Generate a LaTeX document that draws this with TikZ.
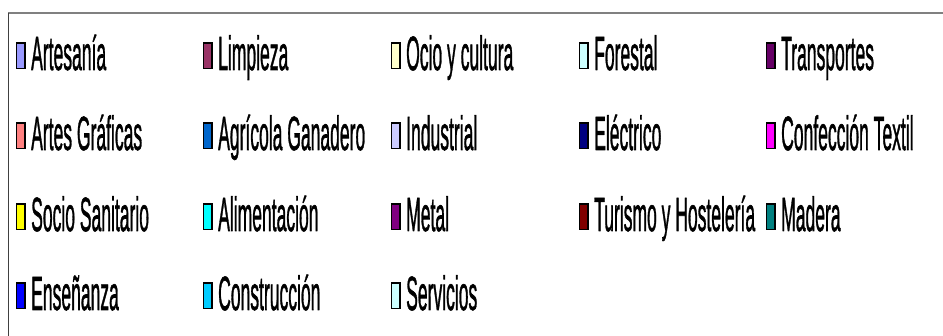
\documentclass[tikz,border=0pt]{standalone}
\usepackage{fontspec}
\setmainfont{Liberation Sans}
\newfontfamily\legfont[FakeBold=1.6]{Liberation Sans}
\usepackage{graphicx}
\definecolor{cArtesania}{HTML}{9999FF}
\definecolor{cLimpieza}{HTML}{993366}
\definecolor{cOcio}{HTML}{FFFFCC}
\definecolor{cForestal}{HTML}{CCFFFF}
\definecolor{cTransportes}{HTML}{660066}
\definecolor{cArtesGraficas}{HTML}{FF8080}
\definecolor{cAgricola}{HTML}{0066CC}
\definecolor{cIndustrial}{HTML}{CCCCFF}
\definecolor{cElectrico}{HTML}{000080}
\definecolor{cConfeccion}{HTML}{FF00FF}
\definecolor{cSocio}{HTML}{FFFF00}
\definecolor{cAlimentacion}{HTML}{00FFFF}
\definecolor{cMetal}{HTML}{800080}
\definecolor{cTurismo}{HTML}{800000}
\definecolor{cMadera}{HTML}{008080}
\definecolor{cEnsenanza}{HTML}{0000FF}
\definecolor{cConstruccion}{HTML}{00CCFF}
\definecolor{cServicios}{HTML}{CCFFFF}
\definecolor{frametop}{HTML}{808080}
\definecolor{frameleft}{HTML}{404040}
\tikzset{
  swatch/.style={draw=black, line width=1.6pt, rectangle, inner sep=0pt,
    minimum width=8.4pt, minimum height=25.4pt, anchor=south west},
  legtext/.style={anchor=base west, inner sep=0pt,
    font=\legfont\fontsize{48}{50}\selectfont}
}
\begin{document}
\begin{tikzpicture}[x=1pt,y=-1pt]
\useasboundingbox (0,0) rectangle (943,336);
\coordinate (ftl) at (8,13);
\coordinate (ftr) at (943,13);
\coordinate (fbl) at (8,336);
\draw[frametop, line width=2pt] (ftl) -- (ftr);
\draw[frameleft, line width=1pt] (ftl) -- (fbl);
\foreach \cx/\by/\col/\txt/\nm in {
  15/70/cArtesania/Artesanía/a1,
  202/70/cLimpieza/Limpieza/a2,
  390/70/cOcio/Ocio y cultura/a3,
  578/70/cForestal/Forestal/a4,
  765/70/cTransportes/Transportes/a5,
  15/150/cArtesGraficas/Artes Gráficas/b1,
  202/150/cAgricola/Agrícola Ganadero/b2,
  390/150/cIndustrial/Industrial/b3,
  578/150/cElectrico/Eléctrico/b4,
  765/150/cConfeccion/Confección Textil/b5,
  15/231/cSocio/Socio Sanitario/c1,
  202/231/cAlimentacion/Alimentación/c2,
  390/231/cMetal/Metal/c3,
  578/231/cTurismo/Turismo y Hostelería/c4,
  765/231/cMadera/Madera/c5,
  15/310/cEnsenanza/Enseñanza/d1,
  202/310/cConstruccion/Construcción/d2,
  390/310/cServicios/Servicios/d3}
{
  \node[swatch, fill=\col] (s\nm) at (\cx+0.8,\by-0.8) {};
  \node[legtext] (t\nm) at (\cx+16,\by) {\scalebox{0.365}[1]{\txt}};
}
\end{tikzpicture}
\end{document}
